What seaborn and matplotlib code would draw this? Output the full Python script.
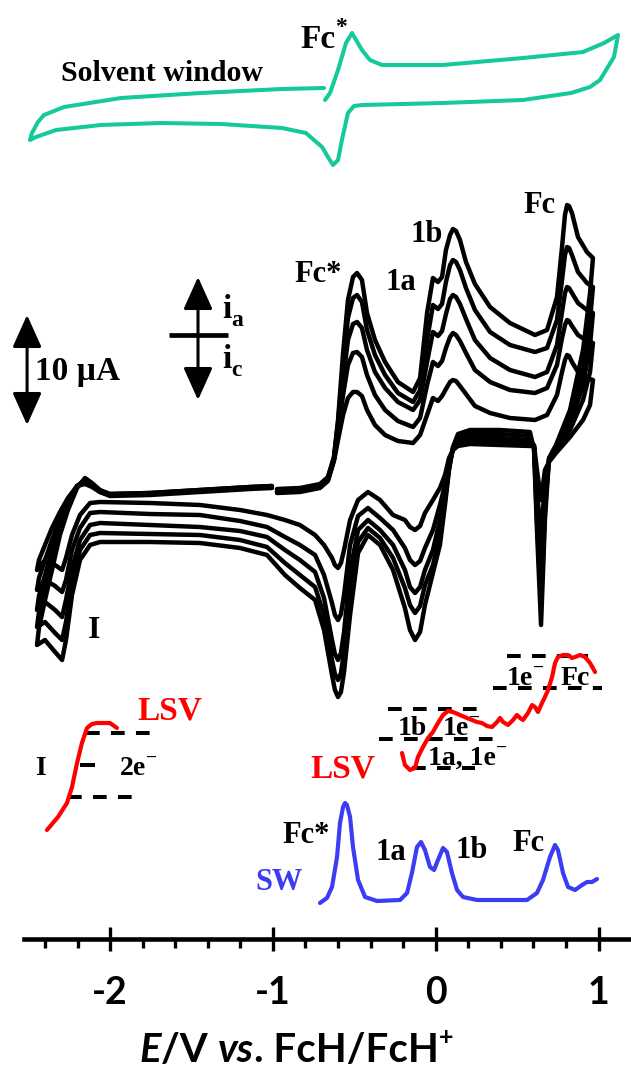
import matplotlib
matplotlib.use("Agg")
import matplotlib.pyplot as plt
import seaborn as sns
import pandas as pd
from matplotlib.ticker import FixedLocator

sns.set_style("white")
plt.rcParams["font.family"] = ["Liberation Serif", "DejaVu Serif"]

# ---------------- data (E in V vs FcH/FcH+, signal in screen-down units) ----------------
# solvent window CV (teal)
teal_E = [-0.686, -0.944, -1.442, -1.933, -2.283, -2.406, -2.443, -2.480, -2.492, -2.455, -2.332,
          -2.056, -1.687, -1.319, -0.944, -0.797, -0.698, -0.662, -0.631, -0.600, -0.576,
          -0.539, -0.502, -0.453, 0.043, 0.536, 0.831, 0.948, 1.009, 1.095, 1.120, 1.034,
          0.905, 0.536, 0.043, -0.330, -0.404, -0.453, -0.514, -0.551, -0.600, -0.649, -0.680]
teal_i = [88, 89, 93, 98, 107, 115, 122, 133, 140, 137, 130,
          125, 123, 124, 128, 133, 147, 157, 165, 160, 140,
          113, 106, 105, 103, 100, 93, 87, 80, 57, 35, 43,
          52, 58, 65, 65, 60, 50, 33, 43, 70, 93, 100]

# five CV cycles (black) share one potential path
cv_E = [-0.975, -0.834, -0.711, -0.662, -0.625, -0.600, -0.569, -0.539, -0.508, -0.483,
        -0.453, -0.422, -0.373, -0.311, -0.232, -0.139, -0.096, -0.053, -0.017, 0.014,
        0.039, 0.063, 0.088, 0.106, 0.125, 0.149, 0.186, 0.241, 0.334, 0.456,
        0.610, 0.684, 0.745, 0.776, 0.794, 0.807, 0.819, 0.837, 0.874, 0.929, 0.966,
        0.948, 0.905, 0.825, 0.739, 0.696, 0.671, 0.647, 0.622, 0.604, 0.579,
        0.395, 0.211, 0.137, 0.106, 0.082, 0.057, 0.026, -0.017, -0.066, -0.096,
        -0.127, -0.158, -0.189, -0.262, -0.342, -0.416, -0.477, -0.526, -0.563, -0.582,
        -0.600, -0.619, -0.637, -0.686, -0.741, -0.834, -0.926, -1.036, -1.202, -1.448,
        -1.755, -2.062, -2.123, -2.185, -2.234, -2.271, -2.295, -2.338, -2.400, -2.449,
        -2.437, -2.400, -2.357, -2.308, -2.259, -2.203, -2.154, -2.111, -2.062, -2.001,
        -1.755, -1.448, -1.141, -1.006]
cv1 = [489, 488, 484, 477, 457, 420, 353, 300, 277, 273, 280, 313, 340, 362, 382, 392, 378, 313,
       278, 282, 277, 250, 235, 229, 231, 240, 262, 284, 307, 323, 335, 330, 297, 247, 215, 205,
       206, 213, 237, 252, 258,
       293, 350, 410, 445, 458, 520, 625, 530, 450, 432, 430, 430, 434, 447, 470, 505, 545, 573,
       605, 632, 640, 630, 608, 570, 545, 535, 553, 615, 672, 692, 697, 690, 675, 630, 600, 588,
       575, 555, 548, 543, 542, 542, 545, 560, 595, 640, 660, 652, 640, 645,
       628, 600, 570, 535, 510, 488, 478, 483, 490, 494, 493, 490, 487, 486]
cv2 = [490, 489, 485, 478, 458, 423, 365, 318, 298, 295, 302, 330, 355, 375, 393, 402, 390, 340,
       305, 309, 304, 282, 265, 260, 262, 270, 288, 310, 332, 345, 352, 348, 320, 280, 255, 247,
       248, 255, 272, 283, 287,
       320, 370, 418, 447, 459, 510, 605, 520, 448, 436, 434, 434, 437, 448, 468, 500, 535, 565,
       585, 606, 613, 605, 588, 558, 538, 528, 542, 595, 652, 673, 680, 674, 660, 615, 587, 575,
       563, 547, 540, 535, 534, 533, 535, 550, 582, 622, 640, 633, 622, 627,
       612, 588, 560, 530, 507, 487, 479, 484, 491, 494, 493, 490, 487, 486]
cv3 = [491, 490, 486, 479, 459, 427, 380, 340, 324, 322, 328, 350, 372, 388, 402, 410, 400, 362,
       332, 336, 331, 314, 299, 295, 297, 304, 319, 340, 358, 370, 377, 372, 345, 312, 293, 287,
       288, 293, 303, 310, 313,
       345, 385, 425, 449, 460, 495, 575, 505, 447, 440, 438, 438, 440, 449, 465, 495, 520, 550,
       570, 587, 593, 587, 570, 545, 530, 520, 530, 572, 632, 653, 660, 654, 640, 598, 572, 560,
       550, 537, 531, 527, 525, 523, 525, 540, 568, 600, 617, 610, 602, 610,
       596, 575, 550, 524, 504, 486, 480, 485, 491, 495, 494, 491, 488, 487]
cv4 = [492, 491, 487, 480, 460, 432, 395, 365, 353, 352, 357, 375, 395, 410, 421, 427, 418, 385,
       362, 366, 361, 348, 337, 333, 335, 341, 353, 370, 382, 390, 393, 388, 365, 338, 325, 320,
       321, 326, 335, 341, 343,
       372, 400, 430, 451, 461, 480, 540, 490, 446, 443, 442, 441, 443, 450, 462, 485, 505, 530,
       548, 561, 565, 560, 548, 530, 518, 508, 516, 545, 595, 614, 620, 615, 603, 575, 555, 545,
       537, 527, 521, 515, 514, 512, 513, 528, 550, 580, 592, 586, 580, 590,
       578, 560, 540, 518, 501, 486, 482, 486, 492, 495, 494, 491, 488, 487]
cv5 = [493, 492, 488, 481, 461, 440, 415, 398, 392, 392, 396, 410, 425, 435, 441, 443, 435, 415,
       398, 401, 396, 389, 382, 380, 381, 386, 394, 406, 413, 418, 420, 415, 395, 372, 360, 355,
       356, 362, 372, 378, 380,
       405, 420, 437, 453, 462, 470, 500, 470, 445, 446, 445, 444, 446, 450, 458, 475, 488, 500,
       513, 526, 530, 527, 520, 515, 500, 492, 500, 520, 550, 563, 568, 565, 558, 545, 535, 525,
       520, 515, 510, 505, 503, 502, 503, 515, 535, 558, 570, 565, 560, 570,
       560, 545, 528, 512, 498, 486, 484, 487, 492, 496, 495, 492, 489, 488]

# LSV traces (red)
lsvL_E = [-2.388, -2.320, -2.265, -2.234, -2.203, -2.173, -2.142, -2.111, -2.080, -2.001, -1.958]
lsvL_i = [830, 817, 803, 787, 763, 743, 728, 724, 723, 723, 728]
lsvR_E = [-0.207, -0.189, -0.158, -0.127, -0.109, -0.078, -0.047, -0.017, 0.014, 0.045,
          0.076, 0.106, 0.149, 0.192, 0.223, 0.254, 0.284, 0.315, 0.346, 0.377,
          0.395, 0.414, 0.444, 0.475, 0.499, 0.518, 0.536, 0.567, 0.592, 0.610,
          0.628, 0.653, 0.671, 0.690, 0.715, 0.733, 0.751, 0.782, 0.813, 0.837,
          0.856, 0.887, 0.917, 0.948, 0.979]
lsvR_i = [753, 765, 770, 768, 757, 747, 738, 732, 723, 715,
          711, 712, 715, 718, 720, 722, 723, 726, 727, 722,
          718, 722, 725, 720, 715, 718, 720, 713, 705, 707,
          712, 703, 697, 690, 677, 663, 657, 655, 655, 658,
          657, 655, 657, 663, 672]

# square wave (blue)
sw_E = [-0.711, -0.668, -0.637, -0.606, -0.588, -0.569, -0.557, -0.545, -0.526, -0.508, -0.477,
        -0.434, -0.360, -0.219, -0.176, -0.146, -0.115, -0.090, -0.066, -0.035, -0.010,
        0.014, 0.045, 0.069, 0.100, 0.131, 0.168, 0.254, 0.561, 0.622, 0.659,
        0.702, 0.733, 0.751, 0.782, 0.813, 0.856, 0.899, 0.929, 0.960, 0.991]
sw_i = [903, 898, 887, 857, 823, 807, 803, 805, 817, 847, 880,
        897, 901, 900, 893, 873, 847, 842, 850, 867, 870,
        860, 848, 852, 873, 890, 897, 900, 900, 893, 880,
        857, 845, 850, 873, 887, 890, 885, 882, 882, 879]

tick_values = [-2, -1, 0, 1]
tick_labels = ["-2", "-1", "0", "1"]
minor_values = [-2.4, -2.2, -1.8, -1.6, -1.4, -1.2, -0.8, -0.6, -0.4, -0.2,
                0.2, 0.4, 0.6, 0.8]

# ---------------- layout ----------------
W, H = 631, 1069
PX, X0 = 162.8, 435.7
fig = plt.figure(figsize=(W / 100, H / 100), dpi=100)
ax = fig.add_axes([0, 0, 1, 1])
ax.set_xlim(-X0 / PX, (W - X0) / PX)
ax.set_ylim(H, 0)

TEAL, RED, BLUE = "#14C99A", "#FF0000", "#3C3CF5"

sns.lineplot(x=teal_E, y=teal_i, sort=False, estimator=None, color=TEAL, lw=2.9, ax=ax)

cv_df = pd.concat([pd.DataFrame({"E": cv_E, "i": c, "cycle": k})
                   for k, c in enumerate([cv1, cv2, cv3, cv4, cv5])], ignore_index=True)
sns.lineplot(data=cv_df, x="E", y="i", units="cycle", estimator=None, sort=False,
             color="black", lw=3.2, ax=ax)

# dashed guide lines for LSV waves
dash_specs = [(733, -2.148, -1.743), (797, -2.259, -1.865),
              (656, 0.438, 0.936), (688, 0.352, 1.022), (709, -0.293, 0.284),
              (739, -0.348, 0.377), (768, -0.146, 0.241)]
for yy, x1, x2 in dash_specs:
    ax.plot([x1, x2], [yy, yy], color="black", lw=2.9, ls=(0, (3.4, 2.8)), solid_capstyle="butt")
ax.plot([-2.185, -2.093], [765, 765], color="black", lw=2.9, solid_capstyle="butt")

sns.lineplot(x=lsvL_E, y=lsvL_i, sort=False, estimator=None, color=RED, lw=3.0, ax=ax)
sns.lineplot(x=lsvR_E, y=lsvR_i, sort=False, estimator=None, color=RED, lw=3.0, ax=ax)
sns.lineplot(x=sw_E, y=sw_i, sort=False, estimator=None, color=BLUE, lw=3.0, ax=ax)

# axis
for s in ["left", "right", "top"]:
    ax.spines[s].set_visible(False)
sp = ax.spines["bottom"]
sp.set_position(("data", 939))
sp.set_bounds(-2.53, 1.19)
sp.set_linewidth(3.3)
sp.set_color("black")
ax.set_yticks([])
ax.set_xticks(tick_values)
ax.set_xticklabels(tick_labels)
ax.xaxis.set_minor_locator(FixedLocator(minor_values))
ax.tick_params(axis="x", which="both", bottom=True, top=False)
ax.tick_params(axis="x", which="major", direction="inout", length=17, width=2.4,
               pad=18, labelsize=27, colors="black")
ax.tick_params(axis="x", which="minor", direction="out", length=6.5, width=2.4, colors="black")
for lbl in ax.get_xticklabels():
    lbl.set_fontfamily("Lato")
    lbl.set_fontweight("bold")
ax.set_xlabel("")
ax.set_ylabel("")


def rich(x, y, parts, family="Liberation Serif", color="black"):
    first = prev = None
    for txt, size, kind in parts:
        kw = dict(fontsize=size, fontweight="bold", fontfamily=family, color=color,
                  fontstyle="italic" if kind == "it" else "normal")
        if first is None:
            first = prev = ax.text(x, y, txt, va="baseline", ha="left", **kw)
            continue
        if kind == "sup":
            t = ax.annotate(txt, xy=(1, 0.55), xycoords=(prev, first), va="bottom", ha="left", **kw)
        elif kind == "sub":
            t = ax.annotate(txt, xy=(1, 0), xycoords=(prev, first), xytext=(0, -4),
                            textcoords="offset points", va="bottom", ha="left", **kw)
        else:
            t = ax.annotate(txt, xy=(1, 0), xycoords=(prev, first), va="bottom", ha="left", **kw)
        prev = t


def lab(x, y, s, size=22, color="black", ha="center"):
    ax.text(x, y, s, fontsize=size, fontweight="bold", color=color, ha=ha, va="baseline",
            fontfamily="Liberation Serif")


# x label
rich(-1.820, 1062, [("E", 29, "it"), ("/V ", 29, "n"), ("vs", 29, "it"), (". FcH/FcH", 29, "n"),
                    ("+", 18, "sup")], family="Lato")

# annotations
lab(-1.681, 81, "Solvent window", size=21.5)
rich(-0.833, 48, [("Fc", 24, "n"), ("*", 17, "sup")])
lab(-0.721, 282, "Fc*")
lab(-0.213, 290, "1a")
lab(-0.053, 242, "1b")
lab(0.635, 213, "Fc")
lab(-2.098, 638, "I", size=23)
lab(-2.461, 380, "10 µA", size=24, ha="left")
rich(-1.311, 318, [("i", 24, "n"), ("a", 17, "sub")])
rich(-1.311, 368, [("i", 24, "n"), ("c", 17, "sub")])

# scale arrows
arrow_kw = dict(arrowstyle="<|-|>,head_length=1.0,head_width=0.45", mutation_scale=20,
                lw=2.2, color="black", shrinkA=0, shrinkB=0)
ax.annotate("", xy=(-2.510, 315), xytext=(-2.510, 425), arrowprops=arrow_kw)
ax.annotate("", xy=(-1.460, 277), xytext=(-1.460, 400), arrowprops=arrow_kw)
ax.plot([-1.638, -1.276], [335, 335], color="black", lw=3.4, solid_capstyle="butt")

# LSV labels
lab(-1.835, 720, "LSV", size=24, color=RED, ha="left")
lab(-2.461, 775, "I", size=20, ha="left")
rich(-1.938, 775, [("2e", 20, "n"), ("\u2212", 14, "sup")])
lab(-0.772, 777, "LSV", size=24, color=RED, ha="left")
rich(0.438, 685, [("1e", 20, "n"), ("\u2212", 14, "sup")])
lab(0.764, 685, "Fc", size=20, ha="left")
lab(-0.232, 735, "1b", size=20, ha="left")
rich(0.045, 735, [("1e", 20, "n"), ("\u2212", 14, "sup")])
rich(-0.047, 765, [("1a, 1e", 20, "n"), ("\u2212", 14, "sup")])

# SW labels
lab(-0.797, 843, "Fc*", size=22)
lab(-0.372, 860, "1a", size=22, ha="left")
lab(0.119, 858, "1b", size=22, ha="left")
lab(0.469, 851, "Fc", size=22, ha="left")
lab(-0.963, 890, "SW", size=22, color=BLUE)

fig.savefig("out.png", dpi=100)
